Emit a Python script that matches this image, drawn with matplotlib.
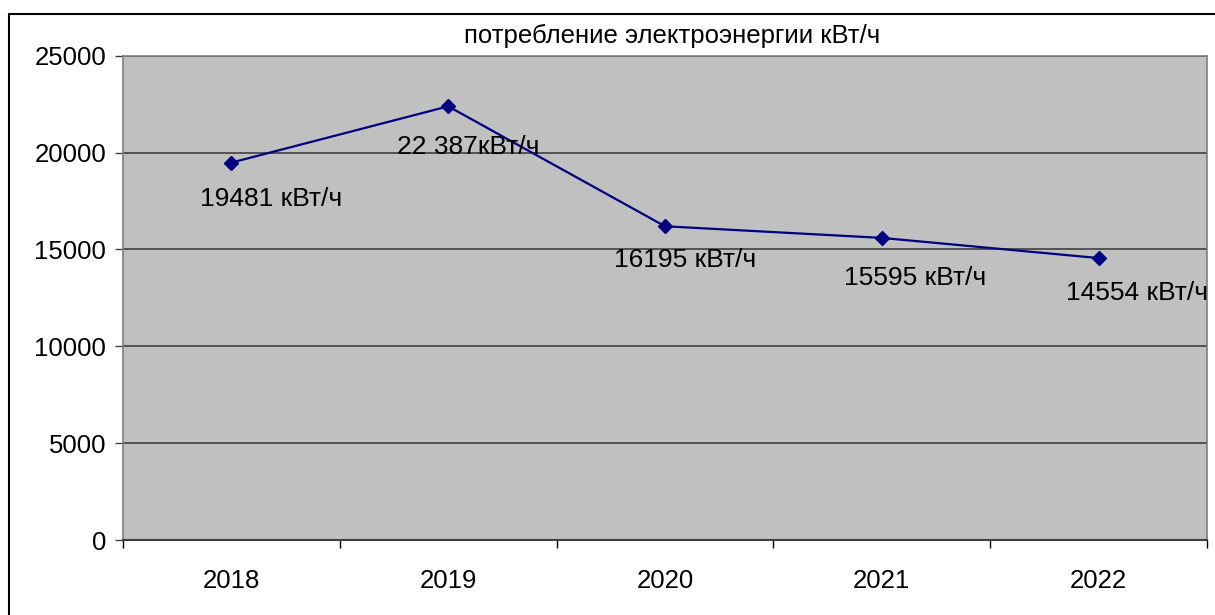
import matplotlib
matplotlib.use("Agg")
import matplotlib.pyplot as plt
from matplotlib.patches import Rectangle

years = ["2018", "2019", "2020", "2021", "2022"]
values = [19481, 22387, 16195, 15595, 14554]
labels = ["19481 кВт/ч", "22 387кВт/ч", "16195 кВт/ч", "15595 кВт/ч", "14554 кВт/ч"]
label_offsets = [(-31, -36), (-51, -41), (-51, -34), (-38, -40), (-33, -35)]
yticks = [0, 5000, 10000, 15000, 20000, 25000]
title = "потребление электроэнергии кВт/ч"

plt.rcParams['font.family'] = ['Liberation Sans', 'DejaVu Sans']

W, H = 1215, 615
fig = plt.figure(figsize=(W / 100, H / 100), dpi=100)
fig.patch.set_facecolor("white")

# outer frame
fig.patches.append(Rectangle((9 / W, -0.1), 1.2, (H - 14) / H + 0.1,
                             transform=fig.transFigure, fill=False,
                             edgecolor="black", linewidth=1.5))

left, right, top, bottom = 123, 1207, 55.7, 540
ax = fig.add_axes([left / W, 1 - bottom / H, (right - left) / W, (bottom - top) / H])
ax.set_facecolor("#C0C0C0")

x = list(range(len(years)))
ax.plot(x, values, color="#000080", linewidth=1.6, marker="D", markersize=7.5,
        markerfacecolor="#000080", markeredgecolor="#000080", zorder=3)

for xi, v, lab, (dx, dy) in zip(x, values, labels, label_offsets):
    ax.annotate(lab, (xi, v), xytext=(dx, dy), textcoords="offset pixels",
                ha="left", va="center", fontsize=19, color="black", zorder=4)

ax.set_xlim(-0.5, len(years) - 0.5)
ax.set_ylim(0, 25000)
ax.set_yticks(yticks)
ax.set_yticklabels([str(t) for t in yticks], fontsize=18.5)
ax.yaxis.grid(True, color="#404040", linewidth=1.2)
ax.set_axisbelow(True)

ax.set_xticks([i - 0.5 for i in range(len(years) + 1)])
ax.set_xticklabels([])
ax.set_xticks(x, minor=True)
ax.set_xticklabels(years, minor=True, fontsize=18.5)
ax.tick_params(axis="x", which="minor", length=0, pad=21)
ax.tick_params(axis="x", which="major", length=6, width=1, color="black", direction="out")
ax.tick_params(axis="y", length=6, width=1, color="#404040", direction="out", pad=6)

for s in ["top", "right", "left"]:
    ax.spines[s].set_color("#808080")
    ax.spines[s].set_linewidth(1.2)
ax.spines["bottom"].set_color("#404040")
ax.spines["bottom"].set_linewidth(1.5)

fig.text(672 / W, 1 - 36 / H, title, ha="center", va="center", fontsize=18.5)

fig.savefig("out.png", dpi=100)
